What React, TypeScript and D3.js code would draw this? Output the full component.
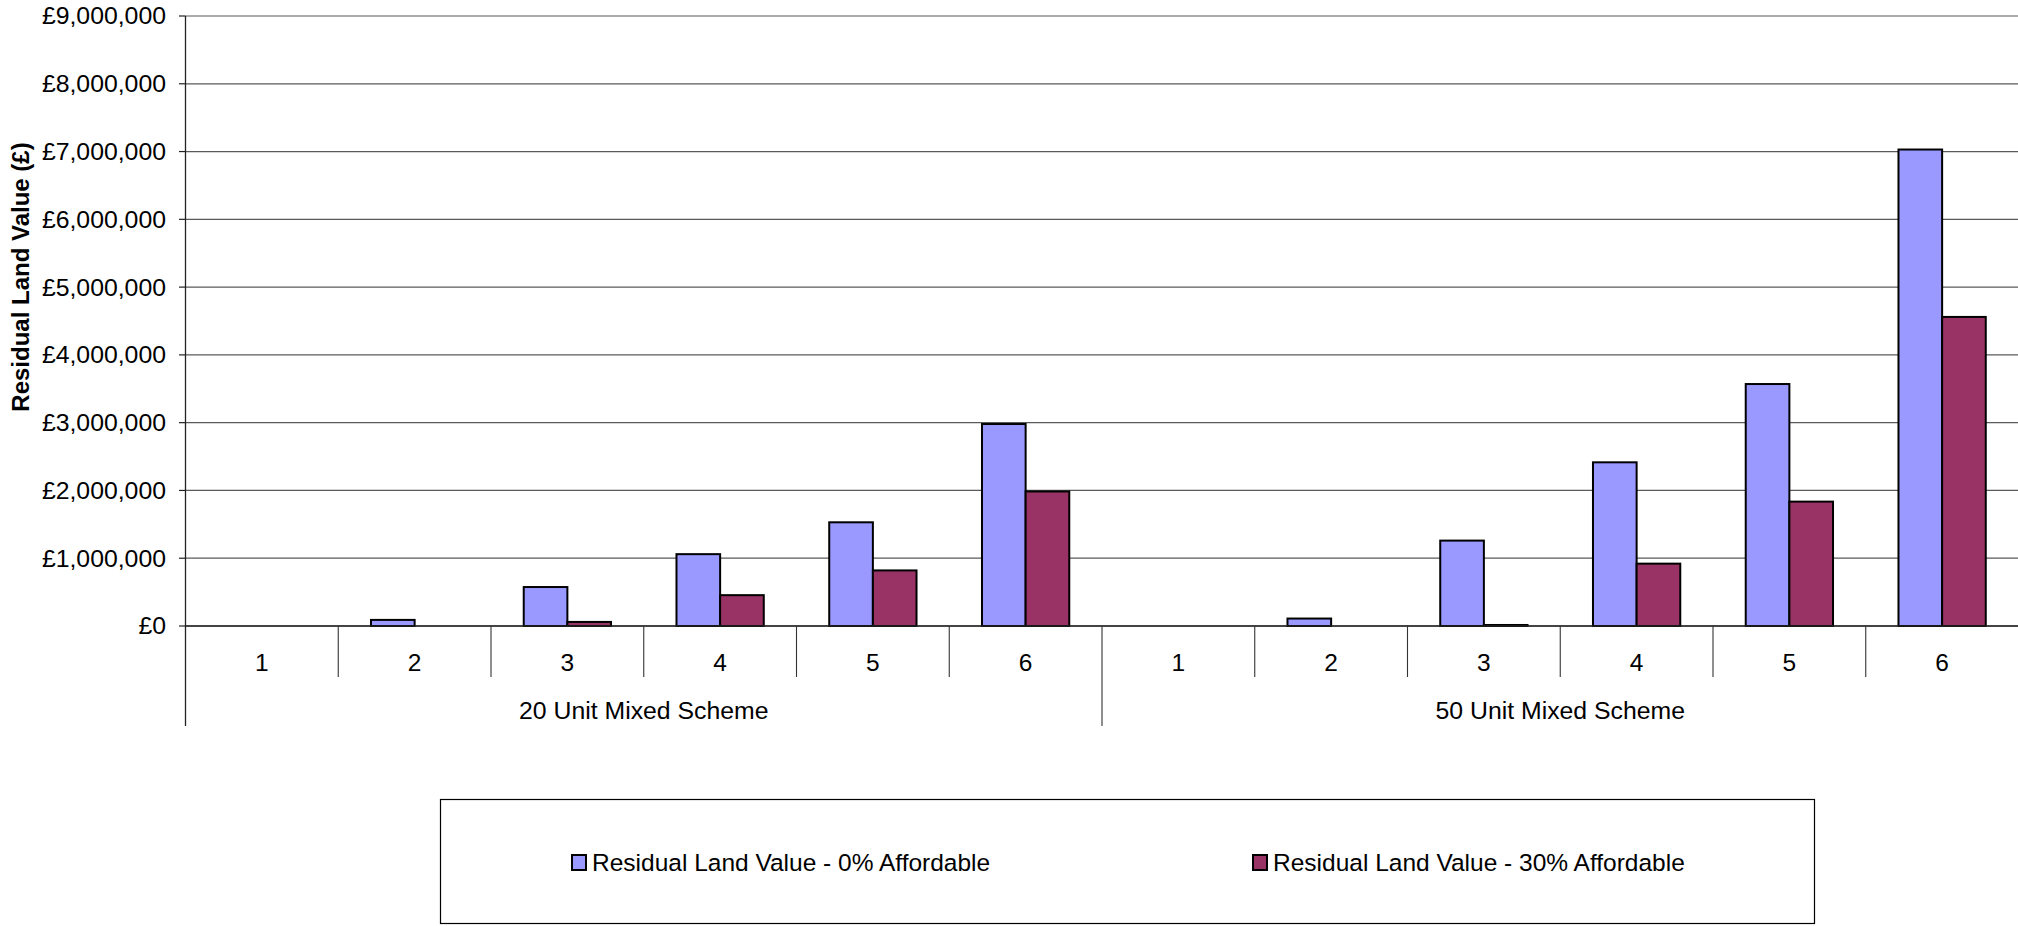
import React from "react";
import * as d3 from "d3";

// Schemes (outer groups) and the scenarios within each scheme
const schemes = ["20 Unit Mixed Scheme", "50 Unit Mixed Scheme"];
const scenarios = ["1", "2", "3", "4", "5", "6"];
const seriesNames = [
  "Residual Land Value - 0% Affordable",
  "Residual Land Value - 30% Affordable",
];
const seriesColors = ["#9999FF", "#993366"];

// Residual land values (£) per scenario
const rlv0Scheme20 = [0, 90000, 575000, 1060000, 1530000, 2980000];
const rlv30Scheme20 = [0, 0, 60000, 455000, 820000, 1985000];
const rlv0Scheme50 = [0, 110000, 1260000, 2415000, 3570000, 7030000];
const rlv30Scheme50 = [0, 0, 15000, 920000, 1835000, 4560000];

const yTicks = [0, 1e6, 2e6, 3e6, 4e6, 5e6, 6e6, 7e6, 8e6, 9e6];

const W = 2018;
const H = 926;
const plot = { left: 185.5, right: 2018.5, top: 16, bottom: 626 };
const FONT = "'Liberation Sans', Arial, Helvetica, sans-serif";

type Row = { scheme: string; scenario: string; key: string; values: number[] };

const rows: Row[] = [];
schemes.forEach((scheme, gi) => {
  const a = gi === 0 ? rlv0Scheme20 : rlv0Scheme50;
  const b = gi === 0 ? rlv30Scheme20 : rlv30Scheme50;
  scenarios.forEach((sc, i) => {
    rows.push({ scheme, scenario: sc, key: `${gi}-${sc}`, values: [a[i], b[i]] });
  });
});

const fmt = (v: number) => "£" + d3.format(",")(v);

export default function App() {
  const x = d3
    .scaleBand<string>()
    .domain(rows.map((r) => r.key))
    .range([plot.left, plot.right])
    .paddingInner(0)
    .paddingOuter(0);
  const band = x.bandwidth();
  const x1 = d3
    .scaleBand<number>()
    .domain([0, 1])
    .range([0, band])
    .paddingInner(0)
    .paddingOuter(0.75);
  const y = d3.scaleLinear().domain([0, 9e6]).range([plot.bottom, plot.top]);

  const groupTickBottom = 726;
  const catTickBottom = 677;

  return (
    <svg
      width={W}
      height={H}
      style={{ position: "absolute", left: 0, top: 0, background: "#fff" }}
      fontFamily={FONT}
    >
      <rect x={0} y={0} width={W} height={H} fill="#fff" />

      {/* horizontal gridlines */}
      {yTicks.map((t) => (
        <line
          key={`g${t}`}
          x1={plot.left}
          x2={plot.right}
          y1={y(t)}
          y2={y(t)}
          stroke="#5a5a5a"
          strokeWidth={1.2}
        />
      ))}

      {/* bars */}
      {rows.map((r) =>
        r.values.map((v, si) =>
          v > 0 ? (
            <rect
              key={`${r.key}-${si}`}
              x={(x(r.key) as number) + (x1(si) as number)}
              y={y(v)}
              width={x1.bandwidth()}
              height={y(0) - y(v)}
              fill={seriesColors[si]}
              stroke="#000"
              strokeWidth={2}
            />
          ) : null
        )
      )}

      {/* y axis */}
      <line x1={plot.left} x2={plot.left} y1={plot.top} y2={groupTickBottom} stroke="#222" strokeWidth={1.3} />
      {yTicks.map((t) => (
        <g key={`t${t}`}>
          <line x1={plot.left - 6.5} x2={plot.left} y1={y(t)} y2={y(t)} stroke="#222" strokeWidth={1.2} />
          <text x={166} y={y(t) + 8.4} textAnchor="end" fontSize={24.8} fill="#000">
            {fmt(t)}
          </text>
        </g>
      ))}

      {/* baseline */}
      <line x1={plot.left} x2={plot.right} y1={y(0)} y2={y(0)} stroke="#222" strokeWidth={1.4} />

      {/* category ticks and labels */}
      {rows.map((r, i) => {
        const x0 = x(r.key) as number;
        const isGroupStart = i % scenarios.length === 0;
        return (
          <g key={`c${r.key}`}>
            {i > 0 && (
              <line
                x1={x0}
                x2={x0}
                y1={y(0)}
                y2={isGroupStart ? groupTickBottom : catTickBottom}
                stroke="#333"
                strokeWidth={1.1}
              />
            )}
            <text x={x0 + band / 2} y={670.5} textAnchor="middle" fontSize={24.5} fill="#000">
              {r.scenario}
            </text>
          </g>
        );
      })}

      {/* scheme labels */}
      {schemes.map((s, gi) => {
        const first = x(`${gi}-${scenarios[0]}`) as number;
        const last = (x(`${gi}-${scenarios[scenarios.length - 1]}`) as number) + band;
        return (
          <text key={s} x={(first + last) / 2} y={718.5} textAnchor="middle" fontSize={24.8} fill="#000">
            {s}
          </text>
        );
      })}

      {/* y axis title */}
      <text
        transform={`translate(29,277) rotate(-90)`}
        textAnchor="middle"
        fontSize={24}
        fontWeight="bold"
        fill="#000"
      >
        Residual Land Value (£)
      </text>

      {/* legend */}
      <rect x={440.5} y={799.5} width={1374} height={124} fill="#fff" stroke="#000" strokeWidth={1.2} />
      {seriesNames.map((name, si) => {
        const lx = si === 0 ? 572 : 1253;
        return (
          <g key={name}>
            <rect x={lx} y={855} width={14} height={15} fill={seriesColors[si]} stroke="#000" strokeWidth={2} />
            <text x={lx + 20} y={870.5} fontSize={24.5} fill="#000">
              {name}
            </text>
          </g>
        );
      })}
    </svg>
  );
}
